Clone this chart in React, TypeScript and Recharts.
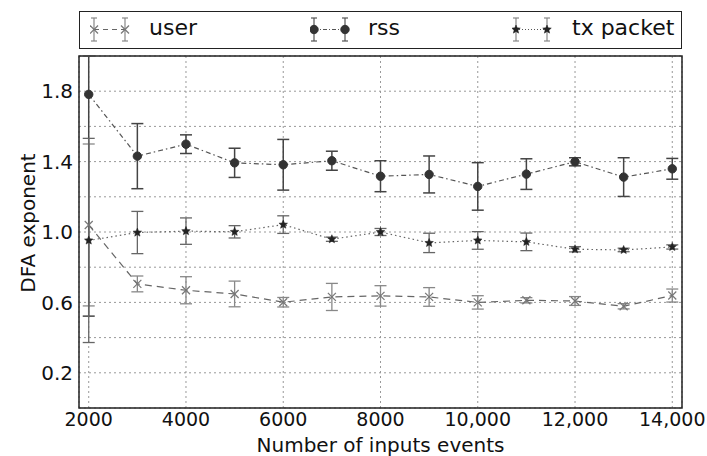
import React from 'react'
import {
  ComposedChart,
  Line,
  XAxis,
  YAxis,
  CartesianGrid,
  ErrorBar,
  ReferenceArea,
} from 'recharts'

const xValues = [2000, 3000, 4000, 5000, 6000, 7000, 8000, 9000, 10000, 11000, 12000, 13000, 14000]
const userVals = [1.04, 0.705, 0.669, 0.648, 0.601, 0.631, 0.637, 0.631, 0.6, 0.612, 0.608, 0.578, 0.639]
const userErr = [0.46, 0.045, 0.077, 0.073, 0.027, 0.077, 0.058, 0.053, 0.038, 0.015, 0.025, 0.015, 0.037]
const rssVals = [1.782, 1.431, 1.499, 1.393, 1.382, 1.405, 1.317, 1.327, 1.259, 1.329, 1.399, 1.312, 1.359]
const rssErr = [1.26, 0.185, 0.053, 0.083, 0.144, 0.054, 0.088, 0.105, 0.135, 0.087, 0.023, 0.11, 0.059]
const txVals = [0.952, 0.997, 1.005, 1.001, 1.042, 0.959, 1.0, 0.938, 0.952, 0.944, 0.902, 0.898, 0.915]
const txErr = [0.58, 0.12, 0.075, 0.035, 0.05, 0.012, 0.02, 0.055, 0.05, 0.05, 0.015, 0.01, 0.012]

const xTicks = [2000, 4000, 6000, 8000, 10000, 12000, 14000]
const yTicks = [0.2, 0.4, 0.6, 0.8, 1.0, 1.2, 1.4, 1.6, 1.8]
const yLabelled = [0.2, 0.6, 1.0, 1.4, 1.8]
const seriesNames = ['user', 'rss', 'tx packet']

const Y_MAX = 2

// error bars are cut at the top of the plot, like the axes box clips them
const clipErr = (v: number, e: number) => [e, Math.min(e, Y_MAX - v)]

const data = xValues.map((x, i) => ({
  x,
  user: userVals[i],
  userErr: clipErr(userVals[i], userErr[i]),
  rss: rssVals[i],
  rssErr: clipErr(rssVals[i], rssErr[i]),
  tx: txVals[i],
  txErr: clipErr(txVals[i], txErr[i]),
}))

const FONT = '"DejaVu Sans", sans-serif'

function starPoints(cx: number, cy: number, r: number) {
  const pts: string[] = []
  for (let k = 0; k < 10; k++) {
    const rad = k % 2 === 0 ? r : r * 0.45
    const a = -Math.PI / 2 + (k * Math.PI) / 5
    pts.push(`${cx + rad * Math.cos(a)},${cy + rad * Math.sin(a)}`)
  }
  return pts.join(' ')
}

const CrossDot = (p: any) => (
  <g key={`u-${p.index}`}>
    <line x1={p.cx - 4} y1={p.cy - 4} x2={p.cx + 4} y2={p.cy + 4} stroke="#777" strokeWidth={1.2} />
    <line x1={p.cx - 4} y1={p.cy + 4} x2={p.cx + 4} y2={p.cy - 4} stroke="#777" strokeWidth={1.2} />
  </g>
)

const CircleDot = (p: any) => <circle key={`r-${p.index}`} cx={p.cx} cy={p.cy} r={4.2} fill="#333" stroke="#333" />

const StarDot = (p: any) => (
  <polygon key={`t-${p.index}`} points={starPoints(p.cx, p.cy, 4.5)} fill="#222" stroke="#222" strokeWidth={0.5} />
)

function LegendIcon({ kind }: { kind: number }) {
  const line =
    kind === 0
      ? { stroke: '#666', dash: '5 4' }
      : kind === 1
      ? { stroke: '#555', dash: '4 2 1 2' }
      : { stroke: '#555', dash: '1 2' }
  const barColor = kind === 1 ? '#555' : '#888'
  const bar = (x: number) => (
    <g>
      <line x1={x} y1={5} x2={x} y2={28} stroke={barColor} strokeWidth={1.2} />
      <line x1={x - 3} y1={5} x2={x + 3} y2={5} stroke={barColor} strokeWidth={1.2} />
      <line x1={x - 3} y1={28} x2={x + 3} y2={28} stroke={barColor} strokeWidth={1.2} />
      {kind === 0 && <CrossDot cx={x} cy={16.5} index={x} />}
      {kind === 1 && <CircleDot cx={x} cy={16.5} index={x} />}
      {kind === 2 && <StarDot cx={x} cy={16.5} index={x} />}
    </g>
  )
  return (
    <svg width={40} height={33} style={{ position: 'absolute', top: 0 }}>
      <line x1={4} y1={16.5} x2={35} y2={16.5} stroke={line.stroke} strokeDasharray={line.dash} strokeWidth={1.2} />
      {bar(4)}
      {bar(35)}
    </svg>
  )
}

const legendPos = [
  { icon: 10, text: 69 },
  { icon: 230, text: 288 },
  { icon: 432, text: 492 },
]

export default function App() {
  return (
    <div style={{ position: 'absolute', left: 0, top: 0, width: 707, height: 456, background: '#fff', fontFamily: FONT }}>
      <div
        style={{
          position: 'absolute',
          left: 79,
          top: 11,
          width: 603,
          height: 38,
          border: '1.5px solid #222',
          boxSizing: 'border-box',
        }}
      >
        {seriesNames.map((name, i) => (
          <React.Fragment key={name}>
            <div style={{ position: 'absolute', left: legendPos[i].icon, top: 1 }}>
              <LegendIcon kind={i} />
            </div>
            <div
              style={{
                position: 'absolute',
                left: legendPos[i].text,
                top: 3,
                fontSize: 22,
                lineHeight: '26px',
                color: '#111',
              }}
            >
              {name}
            </div>
          </React.Fragment>
        ))}
      </div>
      <ComposedChart width={707} height={456} data={data} margin={{ top: 56, right: 25, bottom: 0, left: 0 }}>
        <CartesianGrid stroke="#999" strokeDasharray="2 3" />
        <XAxis
          dataKey="x"
          type="number"
          domain={[1800, 14200]}
          ticks={xTicks}
          allowDataOverflow
          height={48}
          tickLine={false}
          axisLine={false}
          tickSize={0}
          tickMargin={5}
          tick={{ fontSize: 19, fill: '#111', fontFamily: FONT }}
          tickFormatter={(v: number) => (v >= 10000 ? v.toLocaleString('en-US') : String(v))}
          label={(props: any) => {
            const vb = props.viewBox
            return (
              <text x={vb.x + vb.width / 2} y={452} textAnchor="middle" fontSize={20} fill="#111" fontFamily={FONT}>
                Number of inputs events
              </text>
            )
          }}
        />
        <XAxis
          xAxisId="top"
          dataKey="x"
          type="number"
          orientation="top"
          mirror
          height={0}
          domain={[1800, 14200]}
          ticks={xTicks}
          allowDataOverflow
          axisLine={false}
          tickSize={5}
          tickLine={{ stroke: '#222' }}
          tickFormatter={() => ''}
        />
        <YAxis
          type="number"
          domain={[0, Y_MAX]}
          ticks={yTicks}
          allowDataOverflow
          width={79}
          tickLine={false}
          axisLine={false}
          tickSize={0}
          tickMargin={6}
          tick={{ fontSize: 20, fill: '#111', fontFamily: FONT }}
          tickFormatter={(v: number) => (yLabelled.some((t) => Math.abs(t - v) < 1e-6) ? v.toFixed(1) : '')}
          label={(props: any) => {
            const vb = props.viewBox
            const cy = vb.y + vb.height / 2 - 9
            return (
              <text
                x={28}
                y={cy}
                transform={`rotate(-90 28 ${cy})`}
                textAnchor="middle"
                dominantBaseline="central"
                fontSize={20}
                fill="#111"
                fontFamily={FONT}
              >
                DFA exponent
              </text>
            )
          }}
        />
        <YAxis
          yAxisId="right"
          type="number"
          orientation="right"
          mirror
          width={0}
          domain={[0, Y_MAX]}
          ticks={yTicks}
          allowDataOverflow
          axisLine={false}
          tickSize={5}
          tickLine={{ stroke: '#222' }}
          tickFormatter={() => ''}
        />
        <Line
          dataKey="user"
          stroke="#666"
          strokeWidth={1.2}
          strokeDasharray="7 5"
          dot={CrossDot}
          activeDot={false}
          isAnimationActive={false}
        >
          <ErrorBar dataKey="userErr" width={6} stroke="#888" strokeWidth={1.3} direction="y" />
        </Line>
        <Line
          dataKey="rss"
          stroke="#555"
          strokeWidth={1.2}
          strokeDasharray="5 3 1.5 3"
          dot={CircleDot}
          activeDot={false}
          isAnimationActive={false}
        >
          <ErrorBar dataKey="rssErr" width={6} stroke="#444" strokeWidth={1.5} direction="y" />
        </Line>
        <Line
          dataKey="tx"
          stroke="#666"
          strokeWidth={1.2}
          strokeDasharray="1.5 3"
          dot={StarDot}
          activeDot={false}
          isAnimationActive={false}
        >
          <ErrorBar dataKey="txErr" width={6} stroke="#666" strokeWidth={1.3} direction="y" />
        </Line>
        <ReferenceArea x1={1800} x2={14200} y1={0} y2={Y_MAX} fill="none" stroke="#222" strokeWidth={1.5} fillOpacity={0} />
      </ComposedChart>
    </div>
  )
}
